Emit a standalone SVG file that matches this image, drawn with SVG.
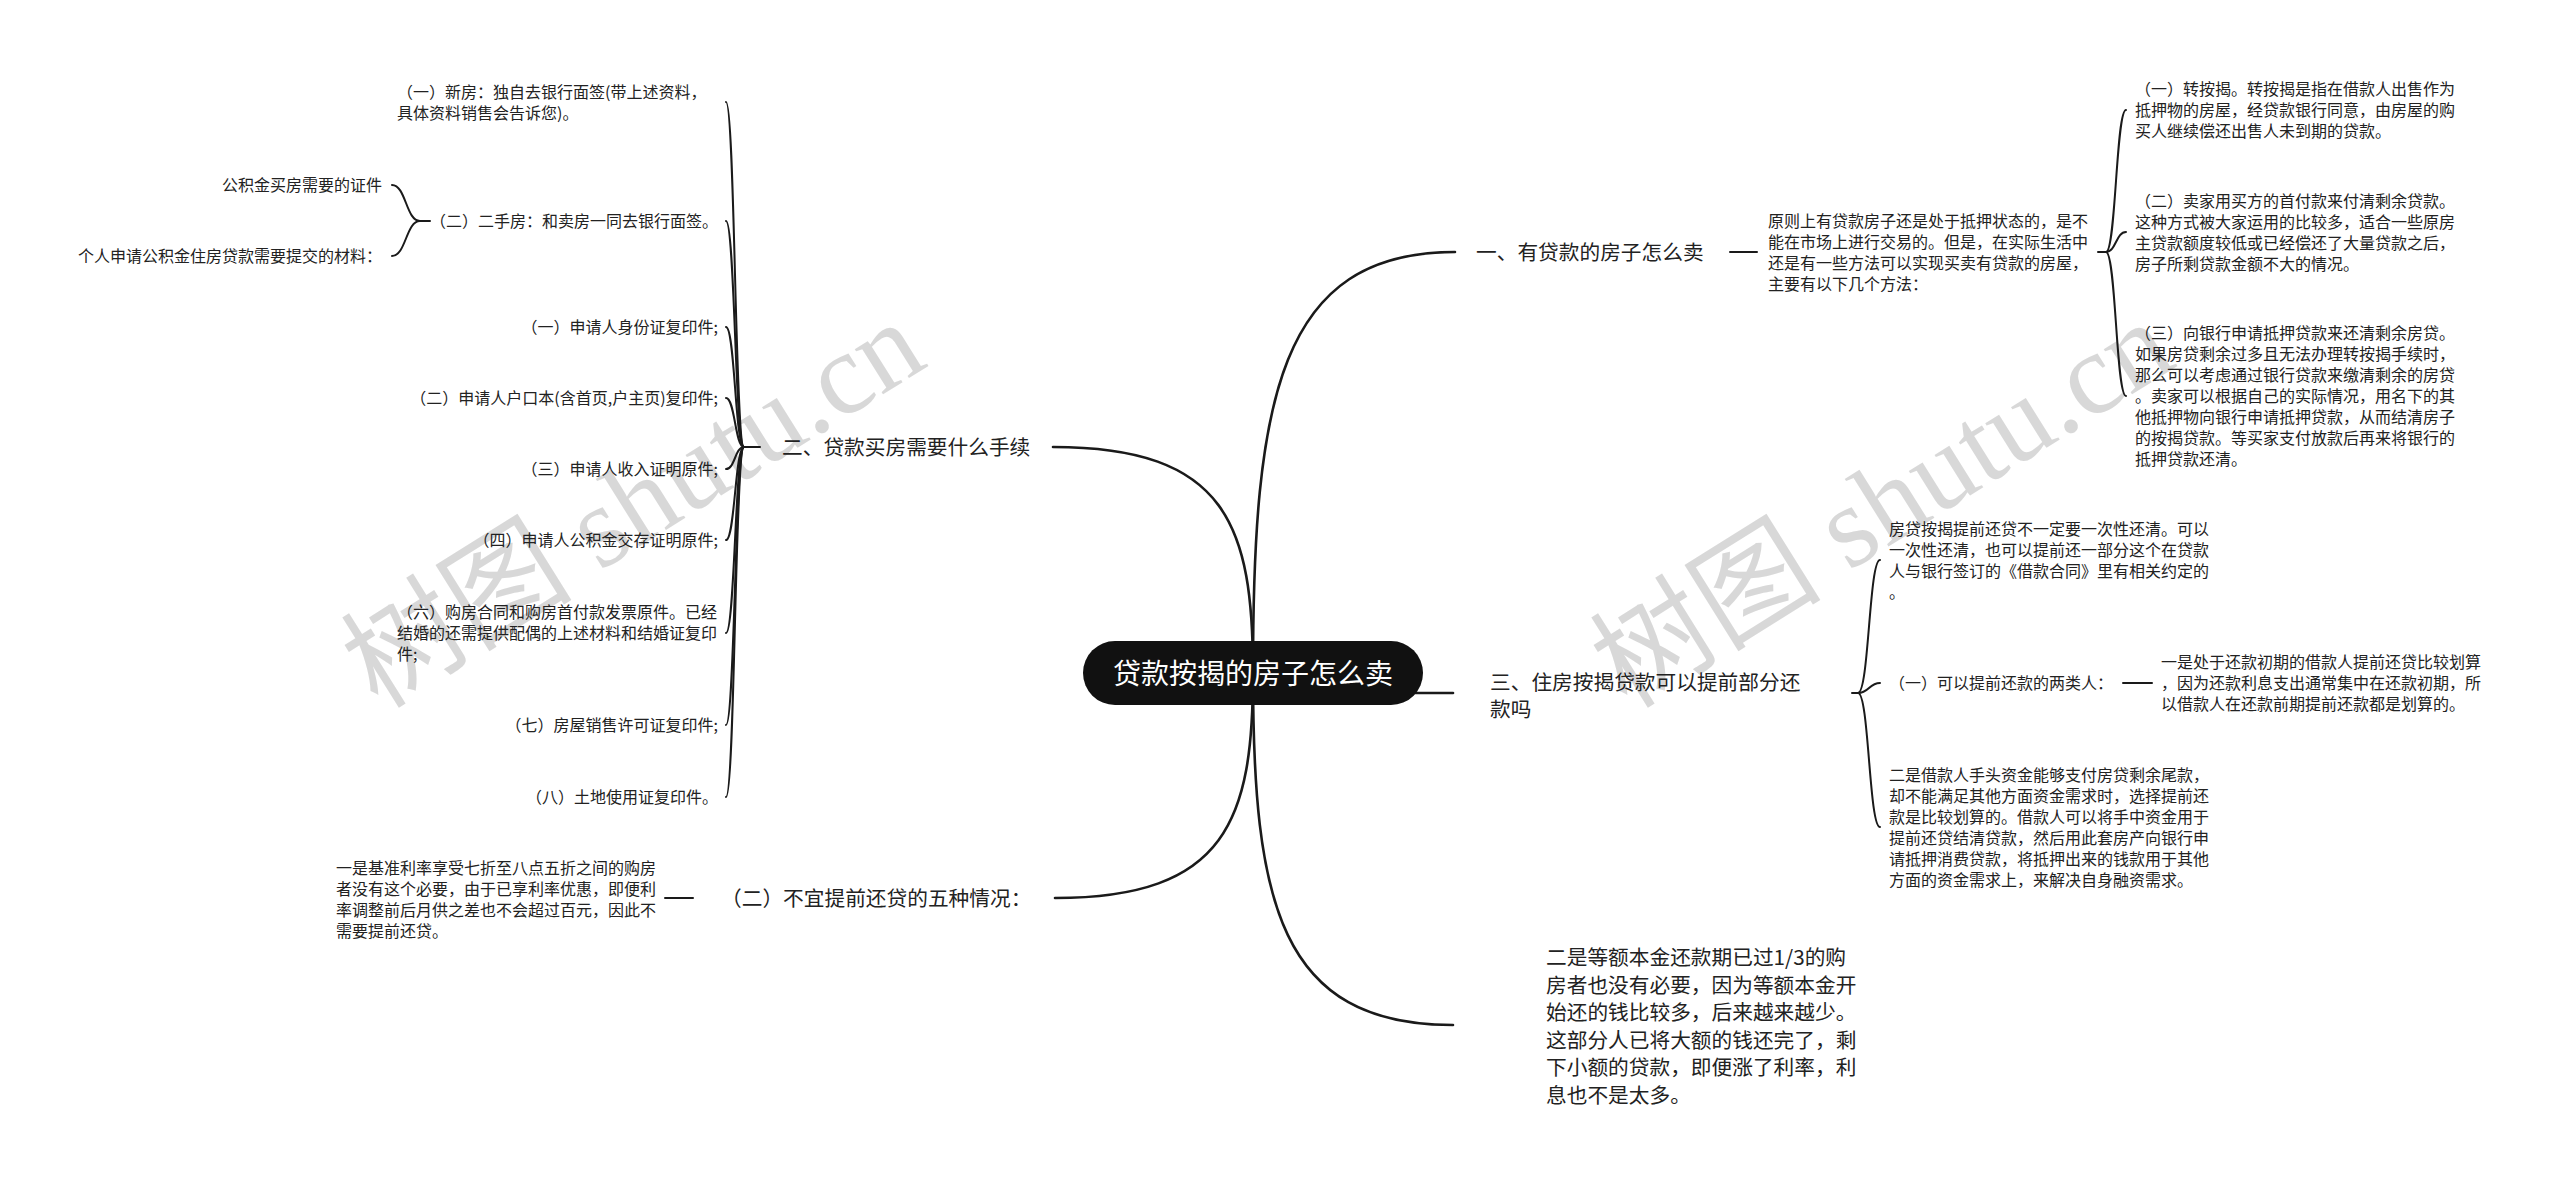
<svg xmlns="http://www.w3.org/2000/svg" width="2560" height="1187" viewBox="0 0 2560 1187">
<style>
text{font-family:"Noto Sans CJK SC","Liberation Sans",sans-serif;fill:#222}
.s{font-size:16px}
.b{font-size:20.7px}
.e{text-anchor:end}
.c{fill:none;stroke:#1a1a1a;stroke-width:2.6;stroke-linecap:round}
.k{fill:none;stroke:#1a1a1a;stroke-width:2;stroke-linecap:round}
.wm{font-family:"Liberation Serif","Noto Sans CJK SC",serif;font-size:116px;fill:#cccccc;opacity:0.75}
</style>
<rect width="2560" height="1187" fill="#fff"/>
<g id="watermarks">
<text class="wm" transform="translate(378,710) rotate(-32)">树图 shutu.cn</text>
<text class="wm" transform="translate(1627,710) rotate(-32)">树图 shutu.cn</text>
</g>
<g id="connectors">
<path class="c" d="M1253,673 C1253,399 1279,252 1455,252"/>
<path class="c" d="M1253,673 C1253,526 1227,447 1053,447"/>
<path class="c" d="M1253,673 C1253,819 1227,898 1055,898"/>
<path class="c" d="M1253,673 C1253,902 1279,1025 1453,1025"/>
<path class="c" d="M1380,693 L1453,693"/>
<path class="k" d="M1730,252 L1757,252"/>
<path class="k" d="M2098,252 L2106,252"/>
<path class="k" d="M2106,252 C2116,252 2116,110 2126,110"/>
<path class="k" d="M2106,252 C2116,252 2116,232 2126,232"/>
<path class="k" d="M2106,252 C2116,252 2116,396 2126,396"/>
<path class="k" d="M1852,693 L1858,693"/>
<path class="k" d="M1858,693 C1869,693 1869,560 1880,560"/>
<path class="k" d="M1858,693 C1869,693 1869,683 1880,683"/>
<path class="k" d="M1858,693 C1869,693 1869,827 1880,827"/>
<path class="k" d="M2123,683 L2152,683"/>
<path class="k" d="M760,447 L744,447"/>
<path class="k" d="M744,447 C735,447 735,102 726,102"/>
<path class="k" d="M744,447 C735,447 735,221 726,221"/>
<path class="k" d="M744,447 C735,447 735,327 726,327"/>
<path class="k" d="M744,447 C735,447 735,398 726,398"/>
<path class="k" d="M744,447 C735,447 735,469 726,469"/>
<path class="k" d="M744,447 C735,447 735,540 726,540"/>
<path class="k" d="M744,447 C735,447 735,633 726,633"/>
<path class="k" d="M744,447 C735,447 735,725 726,725"/>
<path class="k" d="M744,447 C735,447 735,797 726,797"/>
<path class="k" d="M430,221 L420,221"/>
<path class="k" d="M420,221 C406,221 406,185 392,185"/>
<path class="k" d="M420,221 C406,221 406,256 392,256"/>
<path class="k" d="M693,898 L665,898"/>
</g>
<g id="root">
<rect x="1083" y="641" width="340" height="64" rx="32" fill="#111"/>
<text x="1253" y="684" style="font-size:28px;fill:#fff;text-anchor:middle">贷款按揭的房子怎么卖</text>
</g>
<g id="b1">
<text class="b" x="1476" y="260">一、有贷款的房子怎么卖</text>
</g>
<g id="b1-intro">
<text class="s" x="1768" y="226.5"><tspan x="1768">原则上有贷款房子还是处于抵押状态的，是不</tspan><tspan x="1768" dy="21">能在市场上进行交易的。但是，在实际生活中</tspan><tspan x="1768" dy="21">还是有一些方法可以实现买卖有贷款的房屋，</tspan><tspan x="1768" dy="21">主要有以下几个方法：</tspan></text>
</g>
<g id="b1-m1">
<text class="s" x="2135" y="95"><tspan x="2135">（一）转按揭。转按揭是指在借款人出售作为</tspan><tspan x="2135" dy="21">抵押物的房屋，经贷款银行同意，由房屋的购</tspan><tspan x="2135" dy="21">买人继续偿还出售人未到期的贷款。</tspan></text>
</g>
<g id="b1-m2">
<text class="s" x="2135" y="206.5"><tspan x="2135">（二）卖家用买方的首付款来付清剩余贷款。</tspan><tspan x="2135" dy="21">这种方式被大家运用的比较多，适合一些原房</tspan><tspan x="2135" dy="21">主贷款额度较低或已经偿还了大量贷款之后，</tspan><tspan x="2135" dy="21">房子所剩贷款金额不大的情况。</tspan></text>
</g>
<g id="b1-m3">
<text class="s" x="2135" y="339"><tspan x="2135">（三）向银行申请抵押贷款来还清剩余房贷。</tspan><tspan x="2135" dy="21">如果房贷剩余过多且无法办理转按揭手续时，</tspan><tspan x="2135" dy="21">那么可以考虑通过银行贷款来缴清剩余的房贷</tspan><tspan x="2135" dy="21">。卖家可以根据自己的实际情况，用名下的其</tspan><tspan x="2135" dy="21">他抵押物向银行申请抵押贷款，从而结清房子</tspan><tspan x="2135" dy="21">的按揭贷款。等买家支付放款后再来将银行的</tspan><tspan x="2135" dy="21">抵押贷款还清。</tspan></text>
</g>
<g id="b2">
<text class="b" x="782" y="455">二、贷款买房需要什么手续</text>
</g>
<g id="b2-c1">
<text class="s" x="397" y="98"><tspan x="397">（一）新房：独自去银行面签(带上述资料，</tspan><tspan x="397" dy="21">具体资料销售会告诉您)。</tspan></text>
</g>
<g id="b2-c2">
<text class="s e" x="718" y="227">（二）二手房：和卖房一同去银行面签。</text>
</g>
<g id="b2-c2-a">
<text class="s e" x="382" y="191">公积金买房需要的证件</text>
</g>
<g id="b2-c2-b">
<text class="s e" x="382" y="262">个人申请公积金住房贷款需要提交的材料：</text>
</g>
<g id="b2-c3"><text class="s e" x="718" y="333">（一）申请人身份证复印件;</text></g>
<g id="b2-c4"><text class="s e" x="718" y="404">（二）申请人户口本(含首页,户主页)复印件;</text></g>
<g id="b2-c5"><text class="s e" x="718" y="475">（三）申请人收入证明原件;</text></g>
<g id="b2-c6"><text class="s e" x="718" y="546">（四）申请人公积金交存证明原件;</text></g>
<g id="b2-c7">
<text class="s" x="397" y="618"><tspan x="397">（六）购房合同和购房首付款发票原件。已经</tspan><tspan x="397" dy="21">结婚的还需提供配偶的上述材料和结婚证复印</tspan><tspan x="397" dy="21">件;</tspan></text>
</g>
<g id="b2-c8"><text class="s e" x="718" y="731">（七）房屋销售许可证复印件;</text></g>
<g id="b2-c9"><text class="s e" x="718" y="803">（八）土地使用证复印件。</text></g>
<g id="b3">
<text class="b" x="1490" y="689.5"><tspan x="1490">三、住房按揭贷款可以提前部分还</tspan><tspan x="1490" dy="27">款吗</tspan></text>
</g>
<g id="b3-c1">
<text class="s" x="1889" y="534.5"><tspan x="1889">房贷按揭提前还贷不一定要一次性还清。可以</tspan><tspan x="1889" dy="21">一次性还清，也可以提前还一部分这个在贷款</tspan><tspan x="1889" dy="21">人与银行签订的《借款合同》里有相关约定的</tspan><tspan x="1889" dy="21">。</tspan></text>
</g>
<g id="b3-c2">
<text class="s" x="1889" y="689">（一）可以提前还款的两类人：</text>
</g>
<g id="b3-c2-a">
<text class="s" x="2161" y="668"><tspan x="2161">一是处于还款初期的借款人提前还贷比较划算</tspan><tspan x="2161" dy="21">，因为还款利息支出通常集中在还款初期，所</tspan><tspan x="2161" dy="21">以借款人在还款前期提前还款都是划算的。</tspan></text>
</g>
<g id="b3-c3">
<text class="s" x="1889" y="780.5"><tspan x="1889">二是借款人手头资金能够支付房贷剩余尾款，</tspan><tspan x="1889" dy="21">却不能满足其他方面资金需求时，选择提前还</tspan><tspan x="1889" dy="21">款是比较划算的。借款人可以将手中资金用于</tspan><tspan x="1889" dy="21">提前还贷结清贷款，然后用此套房产向银行申</tspan><tspan x="1889" dy="21">请抵押消费贷款，将抵押出来的钱款用于其他</tspan><tspan x="1889" dy="21">方面的资金需求上，来解决自身融资需求。</tspan></text>
</g>
<g id="b4">
<text class="b" x="721" y="906">（二）不宜提前还贷的五种情况：</text>
</g>
<g id="b4-c1">
<text class="s" x="336" y="873.5"><tspan x="336">一是基准利率享受七折至八点五折之间的购房</tspan><tspan x="336" dy="21">者没有这个必要，由于已享利率优惠，即便利</tspan><tspan x="336" dy="21">率调整前后月供之差也不会超过百元，因此不</tspan><tspan x="336" dy="21">需要提前还贷。</tspan></text>
</g>
<g id="b5">
<text class="b" x="1546" y="965"><tspan x="1546">二是等额本金还款期已过1/3的购</tspan><tspan x="1546" dy="27.6">房者也没有必要，因为等额本金开</tspan><tspan x="1546" dy="27.6">始还的钱比较多，后来越来越少。</tspan><tspan x="1546" dy="27.6">这部分人已将大额的钱还完了，剩</tspan><tspan x="1546" dy="27.6">下小额的贷款，即便涨了利率，利</tspan><tspan x="1546" dy="27.6">息也不是太多。</tspan></text>
</g>
</svg>
